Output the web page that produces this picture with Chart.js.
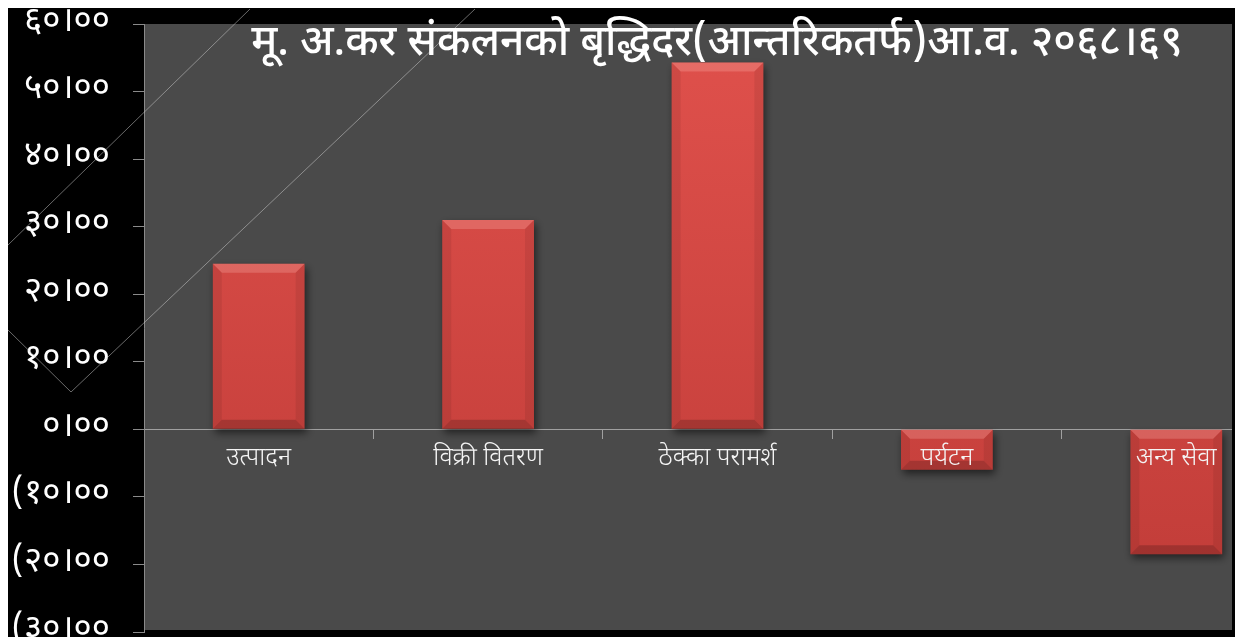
<!DOCTYPE html>
<html>
<head>
<meta charset="utf-8">
<script src="https://cdn.jsdelivr.net/npm/chart.js@4.4.0/dist/chart.umd.min.js"></script>
<style>
  html, body { margin: 0; padding: 0; background: #ffffff; width: 1235px; height: 637px; overflow: hidden; }
  #frame { position: absolute; left: 8px; top: 8px; width: 1224px; height: 629px; background: #000; overflow: hidden; border-right: 3px solid #000; }
  #wrap { position: absolute; left: 0; top: 0; width: 1283px; height: 660px; }
</style>
</head>
<body>
<div id="frame"><div id="wrap"><canvas id="c"></canvas></div></div>
<script>
// ---- data ----
const chartTitle = 'मू. अ.कर संकलनको बृद्धिदर(आन्तरिकतर्फ)आ.व. २०६८।६९';
const categories = ['उत्पादन', 'विक्री वितरण', 'ठेक्का परामर्श', 'पर्यटन', 'अन्य सेवा'];
const growthRate = [24.5, 31.0, 54.3, -6.0, -18.5];
const tickValues = [-30, -20, -10, 0, 10, 20, 30, 40, 50, 60];
const tickLabels = ['(३०।००', '(२०।००', '(१०।००', '०।००', '१०।००', '२०।००', '३०।००', '४०।००', '५०।००', '६०।००'];

const devFont = "'Noto Sans Devanagari', 'Lohit Devanagari', 'Mangal', 'Noto Sans', sans-serif";

const plotBg = {
  id: 'plotBg',
  beforeDraw(chart) {
    const { ctx, chartArea: a } = chart;
    ctx.save();
    ctx.fillStyle = '#4a4a4a';
    ctx.fillRect(a.left, a.top, chart.width - a.left, a.bottom - a.top - 2);
    ctx.restore();
  }
};

const watermark = {
  id: 'watermark',
  beforeDatasetsDraw(chart) {
    const ctx = chart.ctx;
    ctx.save();
    ctx.strokeStyle = 'rgba(210,210,210,0.5)';
    ctx.lineWidth = 1;
    ctx.beginPath();
    ctx.moveTo(242, 1); ctx.lineTo(0, 237);
    ctx.moveTo(467, 1); ctx.lineTo(63, 384);
    ctx.lineTo(0, 322);
    ctx.stroke();
    ctx.restore();
  }
};

const barShadow = {
  id: 'barShadow',
  beforeDatasetsDraw(chart) {
    const ctx = chart.ctx;
    ctx.save();
    ctx.shadowColor = 'rgba(0,0,0,0.55)';
    ctx.shadowBlur = 8;
    ctx.shadowOffsetX = 2;
    ctx.shadowOffsetY = 4;
  },
  afterDatasetsDraw(chart) {
    chart.ctx.restore();
    // bevel highlights on each bar, from the library's computed elements
    const ctx = chart.ctx;
    const meta = chart.getDatasetMeta(0);
    meta.data.forEach(el => {
      const p = el.getProps(['x', 'y', 'base', 'width'], true);
      const l = p.x - p.width / 2, r = p.x + p.width / 2;
      const t = Math.min(p.y, p.base), b = Math.max(p.y, p.base);
      const bv = Math.min(9, (b - t) / 3);
      ctx.save();
      ctx.fillStyle = 'rgba(255,190,180,0.26)';
      ctx.beginPath();
      ctx.moveTo(l, t); ctx.lineTo(r, t); ctx.lineTo(r - bv, t + bv); ctx.lineTo(l + bv, t + bv); ctx.closePath();
      ctx.fill();
      ctx.fillStyle = 'rgba(0,0,0,0.07)';
      ctx.beginPath();
      ctx.moveTo(l, t); ctx.lineTo(l + bv, t + bv); ctx.lineTo(l + bv, b - bv); ctx.lineTo(l, b); ctx.closePath();
      ctx.moveTo(r, t); ctx.lineTo(r - bv, t + bv); ctx.lineTo(r - bv, b - bv); ctx.lineTo(r, b); ctx.closePath();
      ctx.fill();
      ctx.fillStyle = 'rgba(0,0,0,0.18)';
      ctx.beginPath();
      ctx.moveTo(l, b); ctx.lineTo(r, b); ctx.lineTo(r - bv, b - bv); ctx.lineTo(l + bv, b - bv); ctx.closePath();
      ctx.fill();
      ctx.restore();
    });
  }
};

const titlePlugin = {
  id: 'innerTitle',
  afterDraw(chart) {
    const { ctx, chartArea: a } = chart;
    ctx.save();
    ctx.fillStyle = '#ffffff';
    ctx.font = '500 42.5px ' + devFont;
    ctx.textAlign = 'center';
    ctx.textBaseline = 'alphabetic';
    ctx.fillText(chartTitle, 709, a.top + 31);
    ctx.restore();
  }
};

const ctx = document.getElementById('c');
new Chart(ctx, {
  type: 'bar',
  data: {
    labels: categories,
    datasets: [{
      data: growthRate,
      backgroundColor(c) {
        const chart = c.chart;
        const a = chart.chartArea;
        if (!a) return '#d4433d';
        const g = chart.ctx.createLinearGradient(0, a.top, 0, a.bottom);
        g.addColorStop(0, '#e0514c');
        g.addColorStop(1, '#bf3b37');
        return g;
      },
      borderWidth: 0,
      barPercentage: 0.8,
      categoryPercentage: 0.5
    }]
  },
  options: {
    responsive: true,
    maintainAspectRatio: false,
    animation: false,
    devicePixelRatio: 1,
    layout: { padding: { top: 16, bottom: 36, left: 0, right: 0 } },
    plugins: { legend: { display: false }, tooltip: { enabled: false }, title: { display: false } },
    scales: {
      x: {
        position: { y: 0 },
        afterFit(s) { s.height = 0; s.paddingLeft = 0; s.paddingRight = 0; },
        grid: { drawOnChartArea: false, drawTicks: true, tickLength: 9, color: '#a0a0a0', offset: true },
        border: { display: true, color: '#a0a0a0', width: 1 },
        ticks: { color: '#f4f4f4', font: { family: devFont, size: 25, weight: 300 }, padding: 7, maxRotation: 0, autoSkip: false, z: 1 }
      },
      y: {
        min: -30, max: 60,
        afterFit(s) { s.width = 136; s.paddingTop = 0; s.paddingBottom = 0; },
        afterBuildTicks(s) { s.ticks = tickValues.map(v => ({ value: v })); },
        grid: { drawOnChartArea: false, drawTicks: true, tickLength: 11, color: '#8a8a8a' },
        border: { display: true, color: '#8a8a8a', width: 1 },
        ticks: {
          color: '#ffffff',
          font: { family: devFont, size: 35 },
          padding: 23,
          callback(v) { const i = tickValues.indexOf(v); return i >= 0 ? tickLabels[i] : ''; }
        }
      }
    }
  },
  plugins: [plotBg, watermark, barShadow, titlePlugin]
});
</script>
</body>
</html>
